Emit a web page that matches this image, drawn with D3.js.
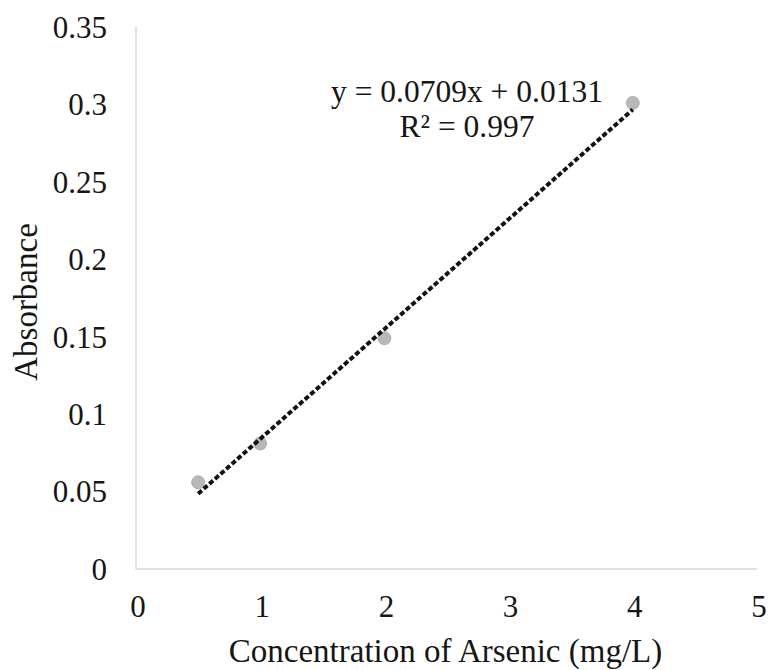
<!DOCTYPE html>
<html><head><meta charset="utf-8">
<script src="https://cdn.jsdelivr.net/npm/d3@7"></script>
<style>body{margin:0;background:#fff}</style>
</head><body><div id="chart"></div>
<script>
const concentrations = [0.5, 1, 2, 4];
const absorbances = [0.056, 0.081, 0.149, 0.301];
const xTicks = [0, 1, 2, 3, 4, 5];
const yTicks = [0, 0.05, 0.1, 0.15, 0.2, 0.25, 0.3, 0.35];
const trendSlope = 0.0709, trendIntercept = 0.0131;
const trendRange = [0.5, 4];
const equationLines = ["y = 0.0709x + 0.0131", "R² = 0.997"];
const xTitle = "Concentration of Arsenic (mg/L)";
const yTitle = "Absorbance";

const W = 768, H = 670;
const m = {left: 136, right: 11, top: 27, bottom: 101};
const FONT = "'Liberation Serif', Tinos, 'DejaVu Serif', serif";
const svg = d3.select("#chart").append("svg").attr("width", W).attr("height", H)
  .attr("font-family", FONT).style("font-family", FONT);
const x = d3.scaleLinear().domain([0, 5]).range([m.left, W - m.right]);
const y = d3.scaleLinear().domain([0, 0.35]).range([H - m.bottom, m.top]);

// axes lines
svg.append("line").attr("x1", x(0)).attr("x2", x(0)).attr("y1", y(0.35)).attr("y2", y(0))
  .attr("stroke", "#cfcfcf").attr("stroke-width", 1.2);
svg.append("line").attr("x1", x(0)).attr("x2", x(5)).attr("y1", y(0)).attr("y2", y(0))
  .attr("stroke", "#c4c4c4").attr("stroke-width", 1.2);

const txt = (sel, size) => sel.attr("font-family", FONT).attr("fill", "#161616").attr("font-size", size);

// y tick labels
svg.append("g").selectAll("text").data(yTicks).join("text")
  .attr("x", 107).attr("y", d => y(d)).attr("dy", "0.35em")
  .attr("text-anchor", "end").call(txt, 31)
  .text(d => String(+d.toFixed(2)));
// x tick labels
svg.append("g").selectAll("text").data(xTicks).join("text")
  .attr("x", d => x(d) + 2).attr("y", 617)
  .attr("text-anchor", "middle").call(txt, 31)
  .text(d => d);

// titles
svg.append("text").attr("x", (x(0) + x(5)) / 2 - 1).attr("y", 662)
  .attr("text-anchor", "middle").call(txt, 33).text(xTitle);
svg.append("text").attr("transform", `translate(37,${(y(0) + y(0.35)) / 2 + 4}) rotate(-90)`)
  .attr("text-anchor", "middle").call(txt, 33).text(yTitle);

// points
svg.append("g").selectAll("circle").data(concentrations).join("circle")
  .attr("cx", d => x(d)).attr("cy", (d, i) => y(absorbances[i])).attr("r", 6.5)
  .attr("fill", "#b8b8b8").attr("stroke", "#a8a8a8").attr("stroke-width", 0.8);

// trendline
svg.append("line")
  .attr("x1", x(trendRange[0])).attr("y1", y(trendSlope * trendRange[0] + trendIntercept))
  .attr("x2", x(trendRange[1])).attr("y2", y(trendSlope * trendRange[1] + trendIntercept))
  .attr("stroke", "#111").attr("stroke-width", 4).attr("stroke-dasharray", "5,2.5");

// equation
svg.append("g").selectAll("text").data(equationLines).join("text")
  .attr("x", 467).attr("y", (d, i) => 102 + i * 35)
  .attr("text-anchor", "middle").call(txt, 31.5).text(d => d);
</script></body></html>
